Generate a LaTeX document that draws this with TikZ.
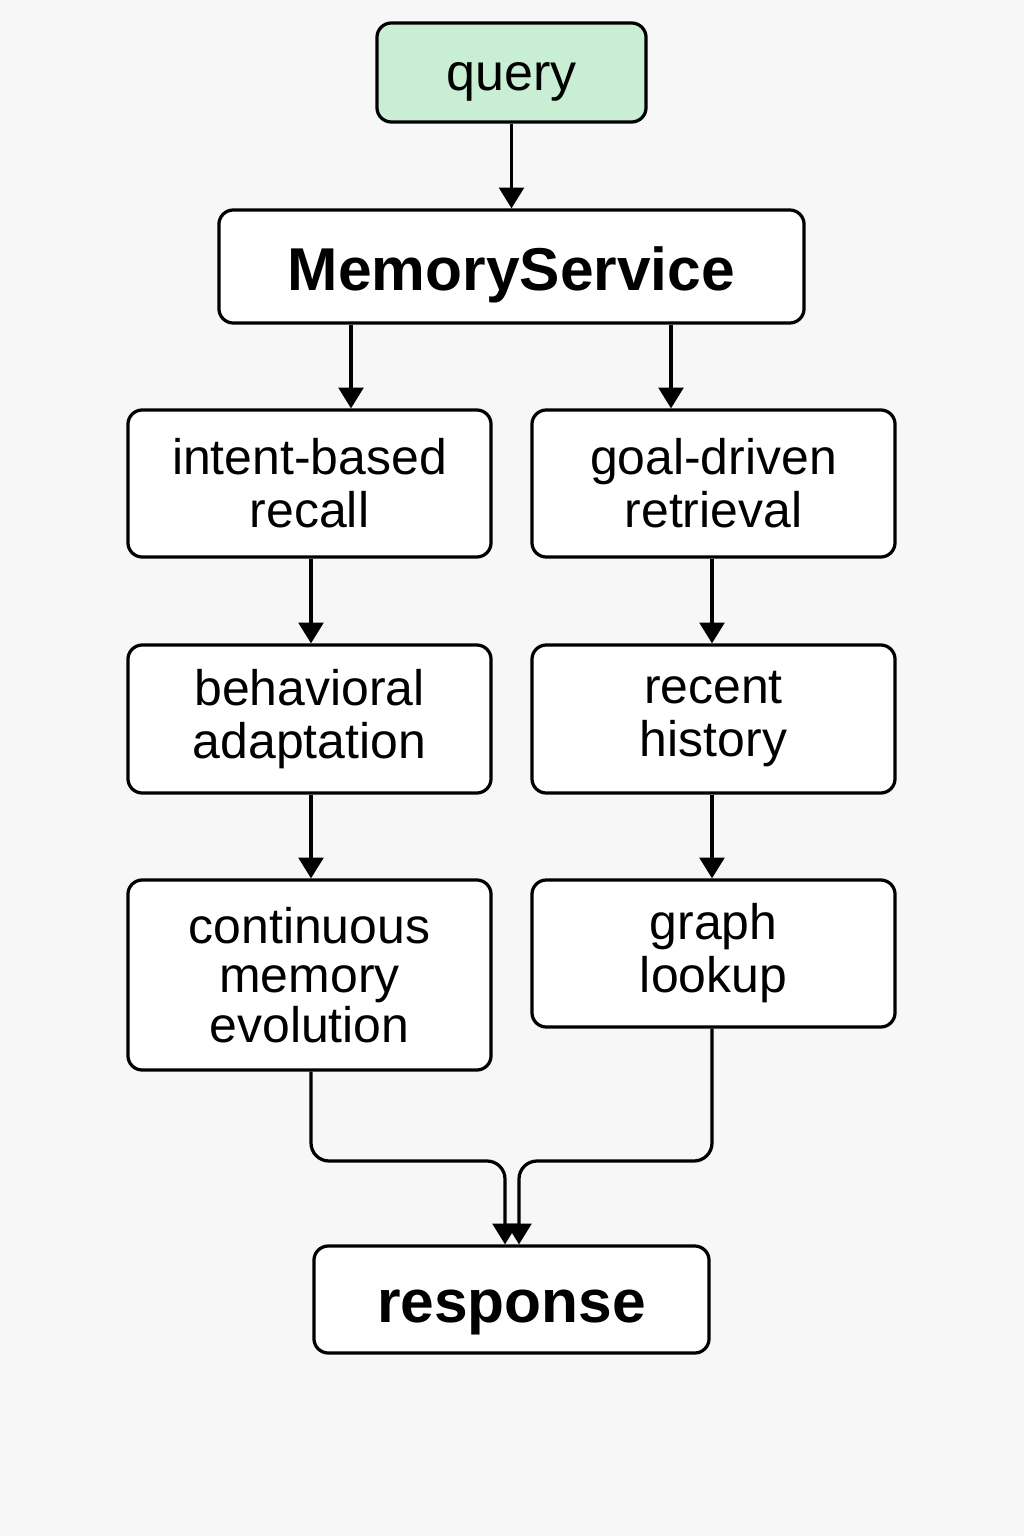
\documentclass[tikz,border=0pt]{standalone}
\usepackage{fontspec}
\setmainfont{Liberation Sans}
\usetikzlibrary{arrows.meta}
\definecolor{bgc}{HTML}{F7F7F7}
\definecolor{qfill}{HTML}{C8EFD4}
\begin{document}
\begin{tikzpicture}[x=0.025cm,y=-0.025cm,
  box/.style={draw=black, line width=2.3pt, rounded corners=0.36cm, fill=white, align=center, inner sep=0pt,
    font=\fontsize{35.5}{37.7}\selectfont},
  arr/.style={line width=2.3pt, -{Triangle[width=0.62cm,length=0.52cm]}},
  ln/.style={line width=2.3pt}]
\fill[bgc] (0,0) rectangle (1024,1536);
\useasboundingbox (0,0) rectangle (1024,1536);
\node[box, fill=qfill, minimum width=6.725cm, minimum height=2.475cm, text height=0.875cm, text depth=0pt, font=\fontsize{37}{40}\selectfont] (q) at (511.5,72.5) {query};
\node[box, minimum width=14.625cm, minimum height=2.825cm, text height=1.175cm, text depth=0pt, font=\fontsize{43}{46}\selectfont\bfseries] (ms) at (511.5,266.5) {MemoryService};
\node[box, minimum width=9.075cm, minimum height=3.675cm] (ir) at (309.5,483.5) {intent-based\\recall};
\node[box, minimum width=9.075cm, minimum height=3.675cm] (gr) at (713.5,483.5) {goal-driven\\retrieval};
\node[box, minimum width=9.075cm, minimum height=3.7cm] (ba) at (309.5,719) {behavioral\\adaptation};
\node[box, minimum width=9.075cm, minimum height=3.7cm] (rh) at (713.5,719) {recent\\history};
\node[box, minimum width=9.075cm, minimum height=4.75cm, font=\fontsize{35.5}{35}\selectfont] (cm) at (309.5,975) {continuous\\memory\\evolution};
\node[box, minimum width=9.075cm, minimum height=3.675cm] (gl) at (713.5,953.5) {graph\\lookup};
\node[box, minimum width=9.875cm, minimum height=2.675cm, text height=1.125cm, text depth=0pt, font=\fontsize{43}{46}\selectfont\bfseries] (rs) at (511.5,1299.5) {response};
\draw[arr] (q.south) -- (ms.north);
\draw[arr] (ms.south -| 351,0) -- (ir.north -| 351,0);
\draw[arr] (ms.south -| 671,0) -- (gr.north -| 671,0);
\draw[arr] (ir.south -| 311,0) -- (ba.north -| 311,0);
\draw[arr] (ba.south -| 311,0) -- (cm.north -| 311,0);
\draw[arr] (gr.south -| 712,0) -- (rh.north -| 712,0);
\draw[arr] (rh.south -| 712,0) -- (gl.north -| 712,0);
\coordinate (c1) at (311,1161);
\coordinate (c2) at (505,1161);
\coordinate (c3) at (712,1161);
\coordinate (c4) at (519,1161);
\draw[arr, rounded corners=0.45cm] (cm.south -| c1) -- (c1) -- (c2) -- (rs.north -| c2);
\draw[arr, rounded corners=0.45cm] (gl.south -| c3) -- (c3) -- (c4) -- (rs.north -| c4);
\end{tikzpicture}
\end{document}
